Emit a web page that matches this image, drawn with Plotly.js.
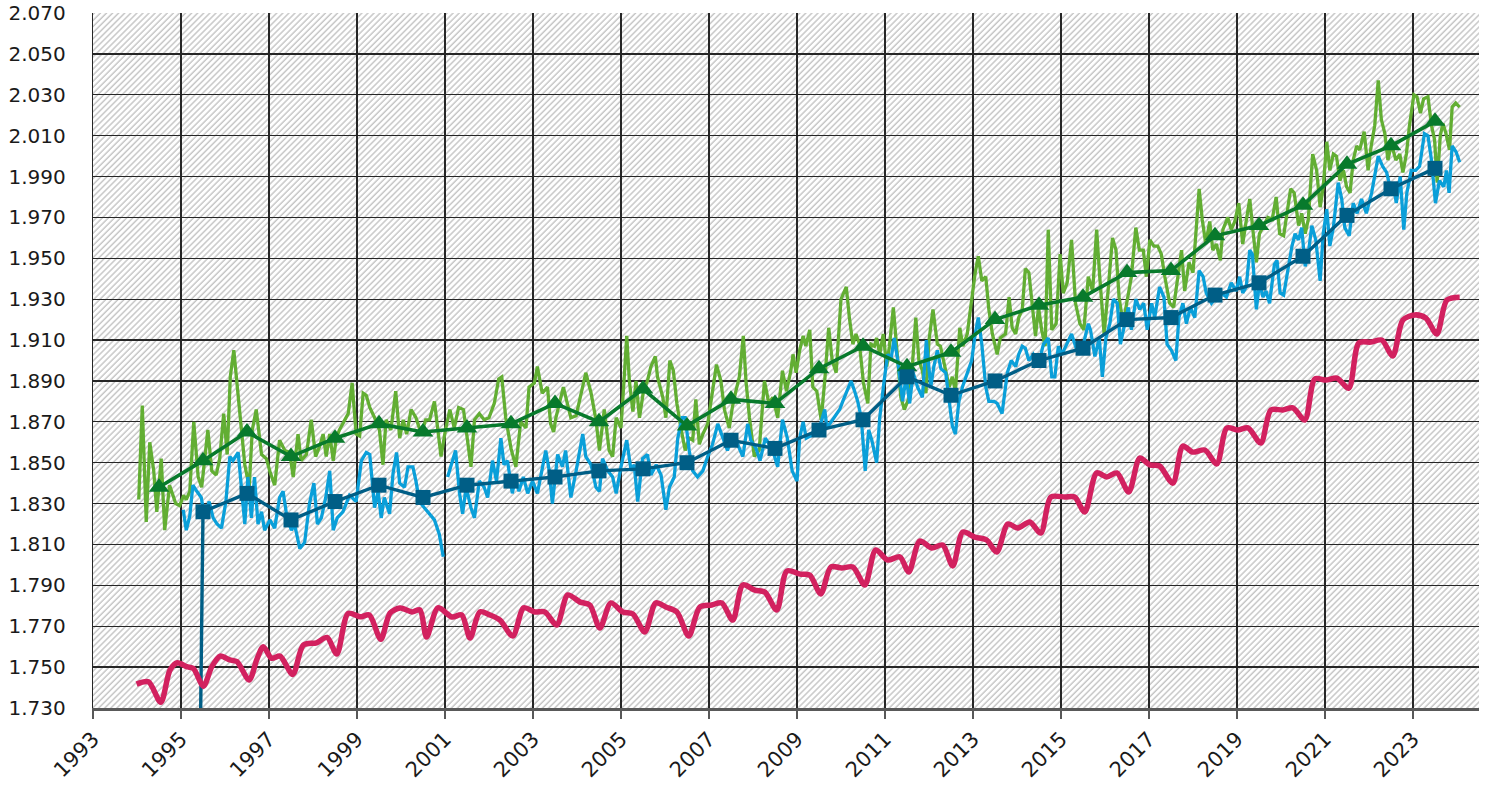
<!DOCTYPE html>
<html>
<head>
<meta charset="utf-8">
<script src="https://cdn.plot.ly/plotly-3.0.1.min.js"></script>
<style>html,body{margin:0;padding:0;background:#fff;}#chart{width:1488px;height:787px;}</style>
</head>
<body>
<div id="chart"></div>
<script>
// ---- Data (ppb, decimal years) ----
const greenMonthYear = [1994.04,1994.12,1994.21,1994.29,1994.38,1994.45,1994.55,1994.63,1994.74,1994.88,1994.97,1995.06,1995.12,1995.2,1995.29,1995.39,1995.47,1995.61,1995.7,1995.8,1995.88,1995.97,1996.05,1996.12,1996.2,1996.33,1996.45,1996.55,1996.62,1996.71,1996.83,1996.94,1997.03,1997.13,1997.24,1997.36,1997.47,1997.55,1997.66,1997.73,1997.85,1997.96,1998.06,1998.15,1998.23,1998.3,1998.38,1998.46,1998.53,1998.6,1998.68,1998.8,1998.89,1998.98,1999.06,1999.14,1999.21,1999.29,1999.4,1999.51,1999.59,1999.66,1999.77,1999.88,1999.97,2000.05,2000.13,2000.23,2000.34,2000.46,2000.56,2000.65,2000.76,2000.84,2000.91,2001.01,2001.11,2001.21,2001.31,2001.42,2001.48,2001.59,2001.67,2001.78,2001.89,2002.0,2002.12,2002.22,2002.29,2002.38,2002.5,2002.61,2002.72,2002.84,2002.91,2003.03,2003.1,2003.21,2003.33,2003.4,2003.47,2003.52,2003.6,2003.69,2003.78,2003.86,2003.98,2004.09,2004.2,2004.32,2004.43,2004.51,2004.62,2004.73,2004.81,2004.89,2005.0,2005.08,2005.13,2005.19,2005.27,2005.34,2005.42,2005.51,2005.6,2005.68,2005.78,2005.83,2005.95,2006.02,2006.11,2006.19,2006.27,2006.36,2006.46,2006.55,2006.63,2006.7,2006.78,2006.86,2006.97,2007.08,2007.17,2007.27,2007.35,2007.46,2007.53,2007.61,2007.69,2007.78,2007.84,2007.92,2008.03,2008.14,2008.26,2008.36,2008.45,2008.56,2008.67,2008.76,2008.86,2008.91,2008.98,2009.06,2009.14,2009.2,2009.29,2009.36,2009.45,2009.55,2009.63,2009.72,2009.8,2009.89,2010.0,2010.12,2010.19,2010.27,2010.34,2010.42,2010.51,2010.61,2010.68,2010.76,2010.81,2010.88,2010.96,2011.04,2011.1,2011.19,2011.29,2011.36,2011.44,2011.55,2011.62,2011.7,2011.77,2011.85,2011.93,2012.0,2012.09,2012.19,2012.26,2012.38,2012.46,2012.53,2012.6,2012.7,2012.77,2012.87,2012.97,2013.05,2013.12,2013.2,2013.29,2013.36,2013.44,2013.55,2013.62,2013.74,2013.82,2013.89,2013.97,2014.04,2014.12,2014.19,2014.27,2014.36,2014.42,2014.49,2014.56,2014.64,2014.71,2014.79,2014.89,2014.98,2015.05,2015.14,2015.24,2015.33,2015.43,2015.52,2015.62,2015.72,2015.81,2015.88,2015.98,2016.07,2016.17,2016.25,2016.32,2016.41,2016.49,2016.6,2016.7,2016.78,2016.87,2016.94,2017.02,2017.11,2017.2,2017.28,2017.36,2017.47,2017.56,2017.66,2017.74,2017.81,2017.91,2018.0,2018.08,2018.14,2018.21,2018.29,2018.38,2018.45,2018.53,2018.62,2018.68,2018.79,2018.87,2018.95,2019.04,2019.13,2019.2,2019.29,2019.36,2019.44,2019.51,2019.63,2019.7,2019.8,2019.89,2019.97,2020.06,2020.15,2020.22,2020.3,2020.4,2020.47,2020.55,2020.62,2020.72,2020.81,2020.89,2020.96,2021.04,2021.11,2021.19,2021.26,2021.34,2021.42,2021.49,2021.57,2021.64,2021.72,2021.79,2021.89,2021.98,2022.05,2022.13,2022.21,2022.28,2022.36,2022.43,2022.51,2022.61,2022.7,2022.77,2022.85,2022.92,2023.02,2023.09,2023.17,2023.24,2023.34,2023.42,2023.49,2023.55,2023.62,2023.68,2023.75,2023.83,2023.89,2023.97,2024.06];
const greenMonthPpb = [1832,1878,1821,1860,1846,1826,1852,1817,1839,1830,1829,1834,1832,1836,1870,1843,1838,1866,1846,1844,1852,1874,1854,1892,1905,1877,1849,1838,1866,1876,1854,1852,1845,1839,1861,1856,1855,1843,1864,1851,1854,1871,1853,1858,1864,1853,1864,1851,1862,1866,1869,1874,1889,1864,1863,1884,1883,1877,1872,1866,1849,1871,1866,1885,1862,1871,1864,1876,1872,1864,1871,1871,1880,1866,1853,1866,1876,1867,1877,1876,1866,1848,1871,1874,1871,1872,1879,1891,1892,1872,1857,1848,1870,1867,1887,1889,1897,1884,1887,1869,1865,1872,1879,1887,1879,1872,1873,1884,1894,1884,1871,1856,1876,1856,1853,1872,1867,1894,1912,1890,1875,1890,1872,1885,1890,1897,1902,1892,1882,1872,1900,1895,1879,1867,1856,1862,1861,1881,1859,1864,1869,1885,1898,1890,1876,1867,1877,1885,1892,1912,1890,1872,1853,1856,1890,1879,1882,1872,1895,1885,1895,1903,1894,1905,1912,1907,1915,1887,1885,1871,1890,1916,1900,1894,1930,1936,1921,1908,1913,1908,1889,1879,1908,1907,1911,1903,1913,1897,1907,1926,1897,1882,1876,1882,1897,1921,1900,1895,1884,1910,1925,1908,1907,1894,1887,1892,1885,1916,1907,1913,1930,1943,1951,1939,1941,1925,1913,1903,1911,1913,1931,1916,1913,1921,1925,1945,1943,1925,1912,1926,1915,1907,1964,1915,1918,1952,1933,1938,1959,1928,1918,1915,1941,1934,1964,1941,1913,1934,1960,1954,1931,1918,1928,1941,1965,1954,1954,1941,1959,1956,1956,1952,1941,1928,1926,1941,1954,1934,1948,1943,1964,1984,1969,1957,1968,1954,1957,1949,1964,1970,1964,1968,1977,1957,1967,1979,1964,1948,1962,1967,1970,1969,1980,1962,1961,1974,1984,1982,1966,1972,1962,1969,2001,1993,1975,1985,2007,1993,2001,2000,1988,1993,1985,1982,1998,2005,2003,2012,1993,2005,2015,2037,2018,2011,1998,2006,1998,2001,1992,2001,2015,2030,2029,2021,2028,2029,2015,2008,1987,2010,2016,2011,2003,2024,2026,2024];

const blueMonthYear = [1995.05,1995.12,1995.2,1995.27,1995.36,1995.46,1995.54,1995.64,1995.73,1995.82,1995.92,1996.02,1996.11,1996.18,1996.3,1996.37,1996.45,1996.52,1996.6,1996.67,1996.75,1996.83,1996.9,1997.02,1997.13,1997.24,1997.32,1997.41,1997.51,1997.58,1997.7,1997.81,1997.92,1998.02,1998.1,1998.19,1998.29,1998.38,1998.46,1998.55,1998.68,1998.83,1998.98,1999.1,1999.21,1999.29,1999.4,1999.48,1999.55,1999.62,1999.74,1999.82,1999.9,1999.97,2000.08,2000.16,2000.27,2000.34,2000.42,2000.53,2000.65,2000.76,2000.87,2000.96,2001.0,2001.06,2001.14,2001.24,2001.33,2001.4,2001.48,2001.59,2001.67,2001.78,2001.89,2001.97,2002.08,2002.17,2002.27,2002.34,2002.42,2002.53,2002.6,2002.68,2002.78,2002.88,2002.99,2003.1,2003.2,2003.29,2003.37,2003.44,2003.56,2003.67,2003.74,2003.86,2003.98,2004.13,2004.2,2004.32,2004.43,2004.51,2004.58,2004.7,2004.81,2004.89,2005.0,2005.13,2005.23,2005.3,2005.38,2005.49,2005.6,2005.68,2005.8,2005.91,2006.02,2006.1,2006.21,2006.29,2006.39,2006.46,2006.55,2006.63,2006.74,2006.86,2006.97,2007.08,2007.2,2007.31,2007.42,2007.53,2007.65,2007.77,2007.88,2007.95,2008.07,2008.16,2008.28,2008.37,2008.45,2008.56,2008.67,2008.78,2008.89,2009.0,2009.06,2009.14,2009.21,2009.3,2009.4,2009.51,2009.63,2009.68,2009.78,2009.89,2009.97,2010.04,2010.12,2010.23,2010.31,2010.38,2010.46,2010.55,2010.63,2010.7,2010.81,2010.88,2010.98,2011.06,2011.14,2011.21,2011.29,2011.4,2011.48,2011.56,2011.64,2011.74,2011.85,2011.94,2012.04,2012.11,2012.19,2012.27,2012.38,2012.46,2012.53,2012.6,2012.68,2012.76,2012.87,2012.97,2013.05,2013.12,2013.2,2013.29,2013.36,2013.48,2013.55,2013.66,2013.78,2013.87,2013.97,2014.04,2014.12,2014.19,2014.27,2014.37,2014.49,2014.6,2014.71,2014.79,2014.86,2014.94,2015.02,2015.13,2015.24,2015.36,2015.43,2015.51,2015.62,2015.67,2015.77,2015.87,2015.94,2016.02,2016.11,2016.19,2016.28,2016.35,2016.45,2016.53,2016.6,2016.7,2016.79,2016.88,2016.96,2017.06,2017.13,2017.24,2017.34,2017.41,2017.51,2017.61,2017.68,2017.77,2017.85,2017.94,2018.04,2018.14,2018.23,2018.3,2018.42,2018.53,2018.64,2018.76,2018.87,2018.98,2019.06,2019.13,2019.21,2019.29,2019.35,2019.44,2019.51,2019.59,2019.66,2019.74,2019.85,2019.91,2019.98,2020.06,2020.17,2020.25,2020.32,2020.4,2020.47,2020.55,2020.62,2020.7,2020.79,2020.89,2020.96,2021.04,2021.11,2021.19,2021.3,2021.38,2021.45,2021.55,2021.64,2021.73,2021.83,2021.94,2022.06,2022.13,2022.21,2022.31,2022.4,2022.49,2022.55,2022.62,2022.71,2022.79,2022.86,2022.96,2023.06,2023.15,2023.26,2023.34,2023.42,2023.51,2023.6,2023.7,2023.76,2023.82,2023.89,2023.98,2024.06];
const blueMonthPpb = [1827,1817,1824,1839,1836,1833,1823,1831,1823,1820,1818,1831,1853,1851,1855,1838,1820,1843,1823,1843,1820,1826,1817,1822,1818,1833,1836,1823,1817,1820,1808,1811,1830,1840,1820,1823,1833,1846,1817,1823,1826,1834,1831,1851,1855,1854,1828,1836,1823,1833,1825,1845,1855,1840,1838,1848,1848,1841,1831,1828,1825,1822,1815,1804,null,1843,1849,1856,1835,1825,1838,1828,1823,1841,1838,1833,1851,1841,1862,1849,1851,1835,1843,1836,1843,1835,1841,1835,1846,1856,1846,1830,1854,1848,1856,1833,1846,1864,1853,1849,1838,1836,1852,1846,1843,1835,1848,1861,1846,1849,1831,1852,1854,1844,1849,1844,1827,1838,1843,1862,1872,1872,1856,1846,1843,1846,1853,1859,1869,1862,1856,1864,1859,1853,1869,1861,1857,1851,1862,1859,1856,1848,1871,1862,1846,1841,1862,1870,1862,1863,1864,1867,1876,1867,1870,1874,1876,1880,1884,1890,1885,1880,1872,1846,1866,1861,1850,1872,1890,1903,1901,1911,1900,1880,1892,1879,1894,1887,1882,1910,1887,1897,1905,1896,1894,1879,1868,1864,1880,1887,1894,1900,1913,1921,1908,1887,1880,1880,1879,1874,1894,1900,1897,1903,1907,1906,1900,1903,1898,1908,1911,1892,1892,1907,1903,1908,1913,1905,1903,1908,1918,1915,1902,1911,1892,1911,1918,1930,1928,1908,1918,1926,1915,1930,1925,1928,1915,1928,1921,1936,1931,1908,1905,1900,1921,1928,1918,1926,1921,1944,1941,1933,1928,1931,1933,1931,1938,1934,1941,1933,1936,1954,1952,1925,1938,1931,1934,1928,1947,1949,1933,1932,1946,1956,1962,1959,1965,1946,1952,1966,1959,1939,1962,1974,1956,1965,1987,1979,1965,1961,1977,1972,1979,1972,1982,1990,2000,1995,1992,1984,1987,1977,1990,1964,1982,1993,1993,1995,2011,2010,1998,1977,1988,1985,1993,1982,2005,2002,1997];

const redYear = [1993.99,1994.26,1994.54,1994.75,1994.92,1995.13,1995.28,1995.51,1995.7,1995.89,1996.11,1996.27,1996.55,1996.72,1996.87,1997.06,1997.25,1997.54,1997.78,1998.08,1998.32,1998.54,1998.8,1999.07,1999.28,1999.54,1999.75,1999.98,2000.25,2000.43,2000.58,2000.84,2001.16,2001.38,2001.57,2001.79,2002.02,2002.25,2002.54,2002.79,2003.04,2003.27,2003.54,2003.79,2004.07,2004.29,2004.52,2004.77,2005.04,2005.27,2005.54,2005.79,2006.02,2006.27,2006.54,2006.79,2007.06,2007.29,2007.54,2007.77,2008.04,2008.27,2008.54,2008.77,2009.07,2009.29,2009.54,2009.77,2010.02,2010.27,2010.54,2010.79,2011.06,2011.34,2011.54,2011.79,2012.06,2012.31,2012.54,2012.77,2013.04,2013.31,2013.54,2013.79,2014.02,2014.29,2014.54,2014.77,2015.09,2015.31,2015.54,2015.81,2016.04,2016.27,2016.54,2016.79,2017.02,2017.24,2017.54,2017.77,2017.99,2018.27,2018.54,2018.77,2019.02,2019.25,2019.54,2019.77,2020.04,2020.27,2020.54,2020.77,2021.02,2021.27,2021.54,2021.77,2022.04,2022.29,2022.54,2022.77,2023.04,2023.29,2023.54,2023.77,2024.06];
const redPpb = [1741.7,1742.8,1732.8,1748.6,1752.1,1750.2,1749.4,1740.7,1750.2,1755.4,1753.5,1752.7,1743.7,1753.5,1760,1754.3,1755.4,1746.4,1760.8,1761.9,1764.5,1756.4,1776.3,1774.6,1775.5,1763.6,1776.4,1778.9,1777,1778,1764.7,1779,1774.5,1775.5,1764.2,1777,1775.5,1773,1765.2,1779,1777,1777,1770.6,1785.3,1781.8,1780.4,1769.1,1781.4,1777,1776,1767.2,1781.4,1779.4,1777,1765.2,1779.4,1780.4,1781.4,1773,1790.2,1787.7,1786.7,1777.9,1797,1795.5,1795,1785.8,1799,1798.5,1799,1790.2,1807.3,1802.4,1803.9,1796.5,1811.7,1808.3,1809.7,1799.5,1816.1,1813.6,1812.2,1806.3,1820,1818,1821,1815.6,1833.2,1833.2,1833.2,1825.9,1845,1843,1845,1835.7,1852.3,1848.9,1848.4,1840,1858.2,1855.2,1856.2,1849.4,1867,1866,1867,1859.6,1875.8,1875.8,1876.8,1870.9,1891,1890.4,1891.4,1886.5,1908.6,1909,1910,1902.2,1919.8,1922.3,1920.8,1913,1929.6,1931];

const annualYear = [1994.5,1995.5,1996.5,1997.5,1998.5,1999.5,2000.5,2001.5,2002.5,2003.5,2004.5,2005.5,2006.5,2007.5,2008.5,2009.5,2010.5,2011.5,2012.5,2013.5,2014.5,2015.5,2016.5,2017.5,2018.5,2019.5,2020.5,2021.5,2022.5,2023.5];
const greenAnnualPpb = [1838,1851,1865,1853,1862,1869,1865,1867,1869,1879,1870,1886,1868,1881,1879,1896,1907,1897,1904,1920,1927,1931,1943,1944,1961,1966,1976,1996,2005,2017];
const blueAnnualPpb = [0,1826,1835,1822,1831,1839,1833,1839,1841,1843,1846,1847,1850,1861,1857,1866,1871,1892,1883,1890,1900,1906,1920,1921,1932,1938,1951,1971,1984,1994];

// ---- Axes ----
const xRange = [1993, 2024.5];
const yRange = [1730, 2070];
const yStep = 20;
const xStep = 2;

// hatched background as an SVG image (drawn beneath the grid)
const hatchSvg = "<svg xmlns='http://www.w3.org/2000/svg' width='1386' height='695'>" +
  "<defs><pattern id='h' width='4.3' height='4.3' patternUnits='userSpaceOnUse' patternTransform='rotate(45)'>" +
  "<line x1='1' y1='0' x2='1' y2='4.3' stroke='#c6c6c6' stroke-width='1.5'/></pattern></defs>" +
  "<rect width='100%' height='100%' fill='#ffffff'/><rect width='100%' height='100%' fill='url(#h)'/></svg>";
const hatchUri = 'data:image/svg+xml;charset=utf-8,' + encodeURIComponent(hatchSvg);

const traces = [
  {x: greenMonthYear, y: greenMonthPpb, type: 'scatter', mode: 'lines',
   line: {color: '#62ae33', width: 3.3}, hoverinfo: 'skip'},
  {x: blueMonthYear, y: blueMonthPpb, type: 'scatter', mode: 'lines', connectgaps: false,
   line: {color: '#0a9fd9', width: 3.3}, hoverinfo: 'skip'},
  {x: annualYear, y: greenAnnualPpb, type: 'scatter', mode: 'lines+markers',
   line: {color: '#087a2c', width: 3.6},
   marker: {symbol: 'triangle-up', size: 18, color: '#087a2c'}},
  {x: annualYear, y: blueAnnualPpb, type: 'scatter', mode: 'lines+markers',
   line: {color: '#005e86', width: 3.4},
   marker: {symbol: 'square', size: 15, color: '#005e86'}},
  {x: redYear, y: redPpb, type: 'scatter', mode: 'lines',
   line: {color: '#d2215f', width: 5.5, shape: 'spline', smoothing: 0.8}}
];

const layout = {
  width: 1488, height: 787,
  margin: {l: 93, r: 9, t: 13, b: 79, pad: 0},
  paper_bgcolor: '#ffffff',
  plot_bgcolor: 'rgba(0,0,0,0)',
  separators: ',.',
  showlegend: false,
  font: {family: 'DejaVu Sans, Verdana, sans-serif', size: 20, color: '#1a1a1a'},
  images: [{source: hatchUri, xref: 'x', yref: 'y', x: xRange[0], y: yRange[1],
            sizex: xRange[1] - xRange[0], sizey: yRange[1] - yRange[0],
            sizing: 'stretch', xanchor: 'left', yanchor: 'top', layer: 'below'}],
  xaxis: {
    range: xRange, tick0: 1993, dtick: xStep, tickmode: 'linear',
    tickformat: 'd', tickangle: -45,
    showgrid: true, gridcolor: '#262626', gridwidth: 1.3,
    zeroline: false,
    showline: true, linecolor: '#595959', linewidth: 2.5,
    ticks: 'outside', ticklen: 8, tickwidth: 2, tickcolor: '#595959',
    tickfont: {size: 21, color: '#1a1a1a'}
  },
  yaxis: {
    range: yRange, tick0: 1730, dtick: yStep, tickmode: 'linear',
    tickformat: ',d',
    showgrid: true, gridcolor: '#262626', gridwidth: 1.3,
    zeroline: false,
    showline: true, linecolor: '#262626', linewidth: 1.3,
    ticks: '', ticklabelstandoff: 22,
    tickfont: {size: 20, color: '#1a1a1a'}
  }
};

Plotly.newPlot('chart', traces, layout, {displayModeBar: false, staticPlot: true});
</script>
</body>
</html>
